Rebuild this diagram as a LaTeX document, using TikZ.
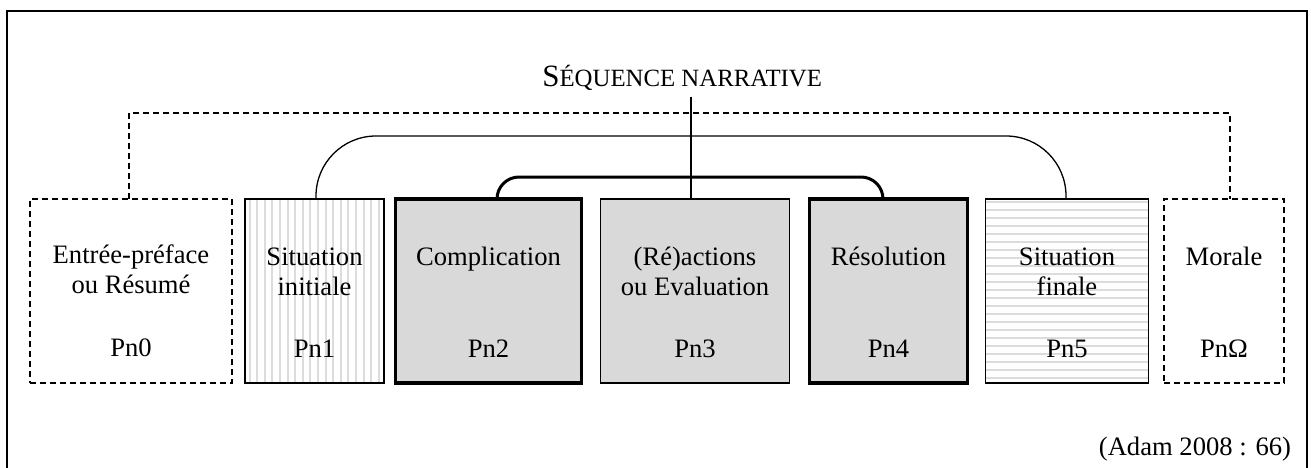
\documentclass[tikz,border=0pt]{standalone}
\usepackage{fontspec}
\setmainfont{Liberation Serif}
\usetikzlibrary{calc}
\definecolor{boxgray}{HTML}{D9D9D9}
\definecolor{stripegray}{HTML}{DCDCDC}
\tikzset{
  x=1pt, y=-1pt,
  every node/.style={inner sep=0pt, outer sep=0pt},
  txt/.style={font=\fontsize{26.6}{30}\selectfont, anchor=base},
  basebox/.style={minimum height=184pt},
  plainbox/.style={basebox, draw, line width=1.5pt},
  graybox/.style={plainbox, fill=boxgray},
  thickbox/.style={basebox, draw, line width=3.5pt, fill=boxgray},
  dashbox/.style={basebox, draw, line width=1.4pt, dash pattern=on 6pt off 4pt},
  dashline/.style={line width=1.4pt, dash pattern=on 6pt off 4pt},
  vstripes/.style={path picture={\foreach \i in {0,...,17}
      \draw[stripegray, line width=2pt] (-65+7.6*\i,-92) -- (-65+7.6*\i,92);}},
  hstripes/.style={path picture={\foreach \i in {0,...,22}
      \draw[stripegray, line width=2pt] (-82,-89+8*\i) -- (82,-89+8*\i);}},
}
\begin{document}
\begin{tikzpicture}
\useasboundingbox (0,0) rectangle (1311,468);
% frame
\draw[line width=1.5pt] (7,470) -- (7,11) -- (1307,11) -- (1307,470);

% boxes
\node[dashbox, minimum width=202pt] (b0) at (131,291) {};
\node[plainbox, vstripes, minimum width=139pt] (b1) at (314.5,291) {};
\node[thickbox, minimum width=186pt] (b2) at (488.5,291) {};
\node[graybox, minimum width=189pt] (b3) at (695,291) {};
\node[thickbox, minimum width=158pt] (b4) at (888.5,291) {};
\node[plainbox, hstripes, minimum width=163pt] (b5) at (1067,291) {};
\node[dashbox, minimum width=120pt] (b6) at (1224,291) {};

% texts
\node[txt] (t0a) at ($(b0.north)+(0,64)$) {Entrée-préface};
\node[txt] (t0b) at ($(b0.north)+(0,94)$) {ou Résumé};
\node[txt] (t0c) at ($(b0.north)+(0,157)$) {Pn0};
\node[txt] (t1a) at ($(b1.north)+(0,66)$) {Situation};
\node[txt] (t1b) at ($(b1.north)+(0,96)$) {initiale};
\node[txt] (t1c) at ($(b1.north)+(0,158)$) {Pn1};
\node[txt] (t2a) at ($(b2.north)+(0,66)$) {Complication};
\node[txt] (t2c) at ($(b2.north)+(0,158)$) {Pn2};
\node[txt] (t3a) at ($(b3.north)+(0,66)$) {(Ré)actions};
\node[txt] (t3b) at ($(b3.north)+(0,96)$) {ou Evaluation};
\node[txt] (t3c) at ($(b3.north)+(0,158)$) {Pn3};
\node[txt] (t4a) at ($(b4.north)+(0,66)$) {Résolution};
\node[txt] (t4c) at ($(b4.north)+(0,158)$) {Pn4};
\node[txt] (t5a) at ($(b5.north)+(0,66)$) {Situation};
\node[txt] (t5b) at ($(b5.north)+(0,96)$) {finale};
\node[txt] (t5c) at ($(b5.north)+(0,158)$) {Pn5};
\node[txt] (t6a) at ($(b6.north)+(0,66)$) {Morale};
\node[txt] (t6c) at ($(b6.north)+(0,158)$) {PnΩ};

% title
\node[anchor=base east] (title) at (822,87)
  {{\fontsize{31}{31}\selectfont S}{\fontsize{24.8}{31}\selectfont ÉQUENCE NARRATIVE}};
\coordinate (vt) at (691,97);

% connectors
\draw[dashline] ($(b0.north)+(-2,0)$) -- ++(0,-86) -| ($(b6.north)+(6,0)$);
\draw[line width=1.3pt, rounded corners=60pt] ($(b1.north)+(1.5,0)$) -- ++(0,-63) -| ($(b5.north)+(-1,0)$);
\draw[line width=3pt, rounded corners=22pt] ($(b2.north)+(8.5,0)$) -- ++(0,-22) -| ($(b4.north)+(-5.5,0)$);
\draw[line width=1.3pt] (vt) -- ($(b3.north)+(-4,0)$);

% citation
\node[txt, anchor=base east] (cite) at (1291,455) {(Adam 2008 : 66)};
\end{tikzpicture}
\end{document}
